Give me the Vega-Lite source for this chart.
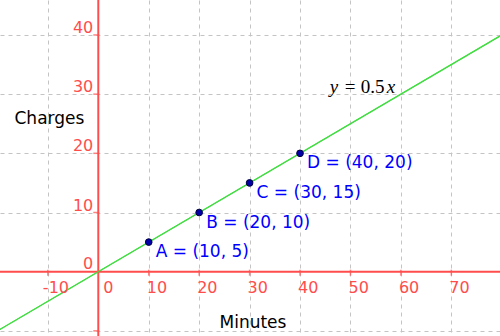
{
  "$schema": "https://vega.github.io/schema/vega-lite/v6.json",
  "width": 500,
  "height": 336,
  "autosize": {"type": "none"},
  "padding": 0,
  "background": "white",
  "config": {
    "view": {"stroke": null},
    "font": "DejaVu Sans",
    "axis": {"labels": false, "ticks": false, "domain": false, "grid": false, "title": null}
  },
  "datasets": {
    "line": [{"x": -20, "y": -10}, {"x": 80, "y": 40}],
    "pts": [
      {"x": 10, "y": 5, "label": "A = (10, 5)"},
      {"x": 20, "y": 10, "label": "B = (20, 10)"},
      {"x": 30, "y": 15, "label": "C = (30, 15)"},
      {"x": 40, "y": 20, "label": "D = (40, 20)"}
    ],
    "xticks": [{"x": -10, "t": "-10"}, {"x": 10, "t": "10"}, {"x": 20, "t": "20"}, {"x": 30, "t": "30"}, {"x": 40, "t": "40"}, {"x": 50, "t": "50"}, {"x": 60, "t": "60"}, {"x": 70, "t": "70"}],
    "yticks": [{"y": -10, "t": ""}, {"y": 10, "t": "10"}, {"y": 20, "t": "20"}, {"y": 30, "t": "30"}, {"y": 40, "t": "40"}],
    "origin": [{"x": 0, "y": 0, "t": "0"}],
    "eq": [{"x": 45.9, "y": 30.25, "a": "y", "b": "=", "c": "0.5", "d": "x"}]
  },
  "layer": [
    {
      "data": {"name": "line"},
      "mark": {"type": "line", "color": "#44dd44", "strokeWidth": 1.2, "clip": true},
      "encoding": {
        "x": {"field": "x", "type": "quantitative",
          "scale": {"domain": [-19.49, 79.65], "nice": false, "zero": false},
          "axis": {"values": [-10, 10, 20, 30, 40, 50, 60, 70], "grid": true, "labels": false, "ticks": false, "domain": false,
            "gridColor": "#c4c4c4", "gridDash": [4, 4], "gridWidth": 1, "gridOpacity": 1,
            "title": "Minutes", "titleX": 219, "titleY": -9, "titleAlign": "left", "titleBaseline": "alphabetic",
            "titleFont": "DejaVu Sans", "titleFontSize": 17, "titleFontWeight": "normal", "titleColor": "black"}},
        "y": {"field": "y", "type": "quantitative",
          "scale": {"domain": [-10.87, 45.91], "nice": false, "zero": false},
          "axis": {"values": [-10, 10, 20, 30, 40], "grid": true, "labels": false, "ticks": false, "domain": false,
            "gridColor": "#c4c4c4", "gridDash": [4, 4], "gridWidth": 1, "gridOpacity": 1,
            "title": "Charges", "titleX": 14, "titleY": 123, "titleAngle": 0, "titleAlign": "left", "titleBaseline": "alphabetic",
            "titleFont": "DejaVu Sans", "titleFontSize": 17, "titleFontWeight": "normal", "titleColor": "black"}}
      }
    },
    {
      "data": {"name": "origin"},
      "mark": {"type": "rule", "color": "#ff4d4d", "strokeWidth": 2},
      "encoding": {"x": {"field": "x", "type": "quantitative"}}
    },
    {
      "data": {"name": "origin"},
      "mark": {"type": "rule", "color": "#ff4d4d", "strokeWidth": 2},
      "encoding": {"y": {"field": "y", "type": "quantitative"}}
    },
    {
      "data": {"name": "xticks"},
      "mark": {"type": "tick", "orient": "vertical", "color": "#ff4d4d", "size": 6, "thickness": 1.5, "yOffset": 1},
      "encoding": {"x": {"field": "x", "type": "quantitative"}, "y": {"datum": 0, "type": "quantitative"}}
    },
    {
      "data": {"name": "yticks"},
      "mark": {"type": "tick", "orient": "horizontal", "color": "#ff4d4d", "size": 6, "thickness": 1.5, "xOffset": -2},
      "encoding": {"y": {"field": "y", "type": "quantitative"}, "x": {"datum": 0, "type": "quantitative"}}
    },
    {
      "data": {"name": "line"},
      "mark": {"type": "line", "color": "#44dd44", "strokeWidth": 1.2, "clip": true},
      "encoding": {"x": {"field": "x", "type": "quantitative"}, "y": {"field": "y", "type": "quantitative"}}
    },
    {
      "data": {"name": "xticks"},
      "transform": [{"filter": "datum.x > 0"}],
      "mark": {"type": "text", "align": "left", "baseline": "alphabetic", "dx": -2, "dy": 21, "fontSize": 16, "color": "#ff4d4d", "font": "DejaVu Sans"},
      "encoding": {"x": {"field": "x", "type": "quantitative"}, "y": {"datum": 0, "type": "quantitative"}, "text": {"field": "t"}}
    },
    {
      "data": {"name": "xticks"},
      "transform": [{"filter": "datum.x < 0"}],
      "mark": {"type": "text", "align": "left", "baseline": "alphabetic", "dx": -5, "dy": 21, "fontSize": 16, "color": "#ff4d4d", "font": "DejaVu Sans"},
      "encoding": {"x": {"field": "x", "type": "quantitative"}, "y": {"datum": 0, "type": "quantitative"}, "text": {"field": "t"}}
    },
    {
      "data": {"name": "origin"},
      "mark": {"type": "text", "align": "left", "baseline": "alphabetic", "dx": 5, "dy": 21, "fontSize": 16, "color": "#ff4d4d", "font": "DejaVu Sans"},
      "encoding": {"x": {"field": "x", "type": "quantitative"}, "y": {"field": "y", "type": "quantitative"}, "text": {"field": "t"}}
    },
    {
      "data": {"name": "yticks"},
      "mark": {"type": "text", "align": "right", "baseline": "alphabetic", "dx": -5, "dy": -2, "fontSize": 16, "color": "#ff4d4d", "font": "DejaVu Sans"},
      "encoding": {"y": {"field": "y", "type": "quantitative"}, "x": {"datum": 0, "type": "quantitative"}, "text": {"field": "t"}}
    },
    {
      "data": {"name": "origin"},
      "mark": {"type": "text", "align": "right", "baseline": "alphabetic", "dx": -5, "dy": -3, "fontSize": 16, "color": "#ff4d4d", "font": "DejaVu Sans"},
      "encoding": {"x": {"field": "x", "type": "quantitative"}, "y": {"field": "y", "type": "quantitative"}, "text": {"field": "t"}}
    },
    {
      "data": {"name": "pts"},
      "mark": {"type": "point", "filled": true, "size": 45, "fill": "#0000a8", "stroke": "#000040", "strokeWidth": 1, "opacity": 1},
      "encoding": {"x": {"field": "x", "type": "quantitative"}, "y": {"field": "y", "type": "quantitative"}}
    },
    {
      "data": {"name": "pts"},
      "mark": {"type": "text", "align": "left", "baseline": "alphabetic", "dx": 7, "dy": 15, "fontSize": 17, "color": "#0000ff", "font": "DejaVu Sans"},
      "encoding": {"x": {"field": "x", "type": "quantitative"}, "y": {"field": "y", "type": "quantitative"}, "text": {"field": "label"}}
    },
    {
      "data": {"name": "eq"},
      "mark": {"type": "text", "align": "left", "baseline": "alphabetic", "fontSize": 19, "fontStyle": "italic", "color": "black", "font": "Liberation Serif"},
      "encoding": {"x": {"field": "x", "type": "quantitative"}, "y": {"field": "y", "type": "quantitative"}, "text": {"field": "a"}}
    },
    {
      "data": {"name": "eq"},
      "mark": {"type": "text", "align": "left", "baseline": "alphabetic", "dx": 15, "fontSize": 19, "color": "black", "font": "Liberation Serif"},
      "encoding": {"x": {"field": "x", "type": "quantitative"}, "y": {"field": "y", "type": "quantitative"}, "text": {"field": "b"}}
    },
    {
      "data": {"name": "eq"},
      "mark": {"type": "text", "align": "left", "baseline": "alphabetic", "dx": 31, "fontSize": 19, "color": "black", "font": "Liberation Serif"},
      "encoding": {"x": {"field": "x", "type": "quantitative"}, "y": {"field": "y", "type": "quantitative"}, "text": {"field": "c"}}
    },
    {
      "data": {"name": "eq"},
      "mark": {"type": "text", "align": "left", "baseline": "alphabetic", "dx": 57, "fontSize": 19, "fontStyle": "italic", "color": "black", "font": "Liberation Serif"},
      "encoding": {"x": {"field": "x", "type": "quantitative"}, "y": {"field": "y", "type": "quantitative"}, "text": {"field": "d"}}
    }
  ]
}
